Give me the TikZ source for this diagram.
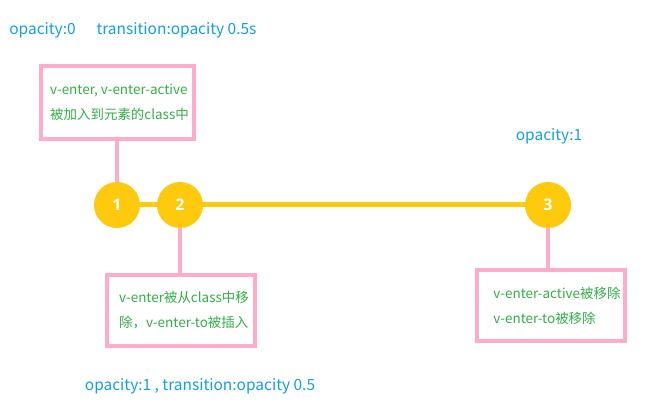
\documentclass[tikz,border=0pt]{standalone}
\usepackage{fontspec}
\setmainfont{Noto Sans CJK SC}
\newfontfamily\numfont{Open Sans}
\definecolor{noteblue}{RGB}{20,160,228}
\definecolor{notegreen}{RGB}{52,176,72}
\definecolor{boxpink}{RGB}{255,172,200}
\definecolor{dotyellow}{RGB}{255,201,14}
\tikzset{
  note/.style={text=noteblue,font=\fontsize{11.6}{13}\selectfont},
  stepdot/.style={circle,fill=dotyellow,minimum size=34.5pt,inner sep=0pt,
    text=white,font=\numfont\bfseries\fontsize{12}{13}\selectfont},
  infobox/.style={draw=boxpink,line width=3pt,fill=white,align=left,inner sep=0pt,
    text=notegreen,font=\fontsize{10.1}{18.75}\selectfont},
  track/.style={draw=dotyellow,line width=3.75pt},
  stem/.style={draw=boxpink,line width=3pt}
}
\begin{document}
\begin{tikzpicture}[x=0.75pt,y=-0.75pt]
    \useasboundingbox[fill=white] (0,0) rectangle (657,417);
    % labels
    \node[note] (op0) at (42.5,30) {opacity:0};
    \node[note] (trans) at (176.5,30) {transition:opacity 0.5s};
    \node[note] (op1) at (549,136) {opacity:1};
    \node[note] (opend) at (200,386) {opacity:1 , transition:opacity 0.5};
    % steps
    \begin{scope}[every node/.style={stepdot}]
      \node (s1) at (117,205) {1};
      \node (s2) at (180,205) {2};
      \node (s3) at (548,205) {3};
    \end{scope}
    % boxes
    \node[infobox,minimum width=114.75pt,minimum height=54.75pt] (enter) at (117.5,102.5)
      {\hspace*{3pt}v-enter, v-enter-active\\\hspace*{3pt}被加入到元素的class中};
    \node[infobox,minimum width=111pt,minimum height=53.25pt] (move) at (181,310.5)
      {\hspace*{4.5pt}v-enter被从class中移\\\hspace*{4.5pt}除，v-enter-to被插入};
    \node[infobox,minimum width=111pt,minimum height=53.25pt] (leave) at (551,305.5)
      {\hspace*{9pt}v-enter-active被移除\\\hspace*{9pt}v-enter-to被移除};
    % connectors
    \path[track] (s1) -- (s2);
    \path[track] (s2) -- (s3);
    \path[stem] (enter.south -| s1) -- (s1.north);
    \path[stem] (s2.south) -- (s2 |- move.north);
    \path[stem] (s3.south) -- (s3 |- leave.north);
  \end{tikzpicture}
\end{document}
